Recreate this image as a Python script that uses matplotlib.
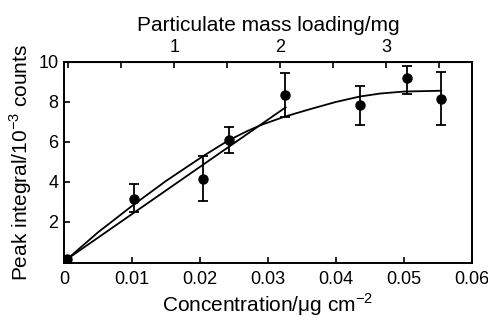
import matplotlib
matplotlib.use("Agg")
import matplotlib.pyplot as plt
from matplotlib.ticker import MultipleLocator

plt.rcParams['font.family'] = ['Liberation Sans', 'DejaVu Sans']
plt.rcParams['mathtext.fontset'] = 'custom'
plt.rcParams['mathtext.rm'] = 'Liberation Sans'

# measured points (concentration in ug/cm2, peak integral in 1e-3 counts)
conc = [0.0005, 0.0103, 0.0205, 0.0242, 0.0325, 0.0436, 0.0504, 0.0554]
peak = [0.15, 3.15, 4.17, 6.1, 8.37, 7.84, 9.2, 8.14]
err_lo = [0.0, 0.65, 1.1, 0.67, 1.13, 1.0, 0.82, 1.31]
err_hi = [0.0, 0.75, 1.13, 0.63, 1.06, 0.96, 0.6, 1.36]

# straight-line fit (low concentration)
line_x = [0.0005, 0.0326]
line_y = [0.15, 7.73]

# curved fit
curve_x = [0.0005, 0.005, 0.010, 0.015, 0.0205, 0.0242, 0.027, 0.029, 0.0325,
           0.0362, 0.040, 0.0435, 0.0465, 0.050, 0.0555]
curve_y = [0.15, 1.48, 2.8, 4.05, 5.3, 6.08, 6.55, 6.85, 7.27,
           7.64, 8.0, 8.27, 8.42, 8.52, 8.56]

fig = plt.figure(figsize=(4.89, 3.21), dpi=100)
ax = fig.add_axes([0.131, 0.181, 0.834, 0.626])

ax.plot(curve_x, curve_y, color='black', lw=1.3, solid_joinstyle='round')
ax.plot(line_x, line_y, color='black', lw=1.3)
ax.errorbar(conc, peak, yerr=[err_lo, err_hi], fmt='o', color='black',
            ms=6.5, elinewidth=1.3, capsize=3.5, capthick=1.3)

ax.set_xlim(0, 0.06)
ax.set_ylim(-0.05, 10)
ax.set_xticks([0, 0.01, 0.02, 0.03, 0.04, 0.05, 0.06])
ax.set_xticklabels(['0', '0.01', '0.02', '0.03', '0.04', '0.05', '0.06'])
ax.set_yticks([2, 4, 6, 8, 10])
ax.tick_params(direction='in', length=4, width=1.2, labelsize=13, pad=6)
ax.tick_params(axis='y', pad=4)
for s in ax.spines.values():
    s.set_linewidth(1.4)

ax.set_xlabel('Concentration/\u03bcg cm$^{-2}$', fontsize=15, labelpad=2)
ax.set_ylabel('Peak integral/10$^{-3}$ counts', fontsize=15, labelpad=3)

# top axis: particulate mass loading
c0, k = 0.0006, 0.0156
top = ax.secondary_xaxis('top', functions=(lambda c: (c - c0) / k, lambda m: m * k + c0))
top.set_xticks([1, 2, 3])
top.xaxis.set_minor_locator(MultipleLocator(0.5))
top.tick_params(which='both', direction='in', length=4, width=1.2, labelsize=13, pad=4)
top.set_xlabel('Particulate mass loading/mg', fontsize=15, labelpad=6)

fig.savefig('out.png', dpi=100)
